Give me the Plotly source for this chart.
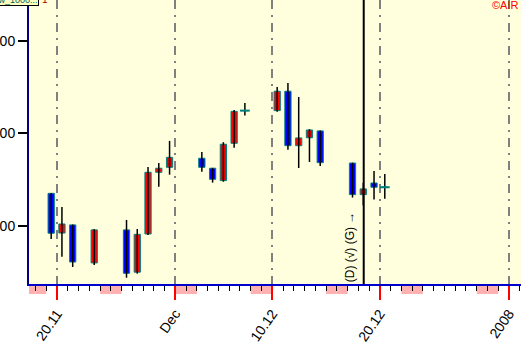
import plotly.graph_objects as go
import pandas as pd

# ---- data ----
dates = ["2007-11-19", "2007-11-20", "2007-11-21", "2007-11-23", "2007-11-26", "2007-11-27",
         "2007-11-28", "2007-11-29", "2007-11-30", "2007-12-03", "2007-12-04", "2007-12-05",
         "2007-12-06", "2007-12-07", "2007-12-10", "2007-12-11", "2007-12-12", "2007-12-13",
         "2007-12-14", "2007-12-17", "2007-12-18", "2007-12-19", "2007-12-20"]
opens = [13175, 12960, 13004, 12798, 12977, 12748, 12955, 13289, 13316, 13365, 13311, 13244,
         13446, 13623, 13623, 13728, 13433, 13476, 13513, 13339, 13168, 13231, 13208]
highs = [13177, 13101, 13006, 12980, 13031, 12982, 13318, 13339, 13459, 13399, 13313, 13452,
         13626, 13664, 13751, 13773, 13697, 13522, 13515, 13341, 13232, 13296, 13280]
lows = [12928, 12831, 12776, 12787, 12718, 12740, 12950, 13211, 13276, 13292, 13233, 13238,
        13422, 13596, 13617, 13411, 13312, 13345, 13323, 13152, 13110, 13141, 13146]
closes = [12959, 13009, 12803, 12977, 12742, 12953, 13289, 13311, 13370, 13316, 13251, 13441,
          13619, 13623, 13728, 13433, 13475, 13518, 13341, 13168, 13199, 13208, 13208]

tick_dates = ["2007-11-20", "2007-12-01", "2007-12-10", "2007-12-20", "2008-01-01"]
tick_labels = ["20.11", "Dec", "10.12", "20.12", "2008"]
y_ticks = [13000, 13500, 14000]
cursor_date = "2007-12-18 12:00"
x_range = ["2007-11-17 09:33", "2008-01-02 02:45"]
y_range = [12684, 14222]

UP = "#FF0000"
DOWN = "#0000FF"
EDGE = "#008080"

day = pd.Timedelta(days=1)
xs = [pd.Timestamp(d) + pd.Timedelta(hours=11) for d in dates]

fig = go.Figure()

# wicks
wx, wy = [], []
for x, lo, hi in zip(xs, lows, highs):
    wx += [x, x, None]
    wy += [lo, hi, None]
fig.add_trace(go.Scatter(x=wx, y=wy, mode="lines", line=dict(color="black", width=1.5),
                         hoverinfo="skip"))

# bodies
base = [min(o, c) for o, c in zip(opens, closes)]
size = [abs(c - o) for o, c in zip(opens, closes)]
cols = [UP if c > o else DOWN for o, c in zip(opens, closes)]
fig.add_trace(go.Bar(x=xs, y=size, base=base, width=0.58 * 86400000,
                     marker=dict(color=cols, line=dict(color=EDGE, width=1))))

# doji bars
dx = [x for x, o, c in zip(xs, opens, closes) if o == c]
dy = [o for o, c in zip(opens, closes) if o == c]
fig.add_trace(go.Scatter(x=dx, y=dy, mode="markers",
                         marker=dict(symbol="line-ew", size=7, line=dict(color=EDGE, width=2))))

# weekend marks below the axis
shapes = []
for d in pd.date_range("2007-11-17", "2008-01-01"):
    if d.weekday() >= 5:
        shapes.append(dict(type="rect", xref="x", yref="paper", x0=d, x1=d + day,
                           y0=-10 / 284, y1=-1 / 284, fillcolor="#FFB0B0",
                           line=dict(width=0), layer="below"))
shapes.append(dict(type="line", xref="x", yref="paper", x0=cursor_date, x1=cursor_date,
                   y0=0, y1=1, line=dict(color="black", width=2), layer="above"))

annotations = [
    dict(text="(D) (√) (G) →", textangle=-90, xref="x", yref="paper", x=cursor_date, y=0,
         xanchor="right", yanchor="bottom", xshift=-5, showarrow=False,
         font=dict(size=12, color="black", family="Arial")),
    dict(text="©AIR", xref="paper", yref="paper", x=1, y=1, xanchor="right", yanchor="top",
         xshift=-1, yshift=3, showarrow=False, font=dict(size=11, color="red", family="Arial")),
    dict(text="Dow_1000...", xref="paper", yref="paper", x=10 / 492, y=1 - 6 / 284,
         xanchor="right", yanchor="bottom", showarrow=False, bgcolor="#FFFFC0",
         bordercolor="black", borderwidth=1, borderpad=0,
         font=dict(size=9, color="#006060", family="Arial")),
    dict(text="1", xref="paper", yref="paper", x=11 / 492, y=1 - 7 / 284,
         xanchor="left", yanchor="bottom", showarrow=False,
         font=dict(size=10, color="#A00000", family="Arial")),
]

fig.update_layout(
    template="none",
    width=521, height=363,
    margin=dict(l=29, r=0, t=0, b=79),
    paper_bgcolor="white", plot_bgcolor="#FFFFDD",
    showlegend=False,
    shapes=shapes, annotations=annotations,
    xaxis=dict(
        type="date", range=x_range, tickmode="array", tickvals=tick_dates, ticktext=tick_labels,
        tickangle=-55, ticks="outside", ticklen=14, tickwidth=1.5, tickcolor="red",
        tickfont=dict(size=14, color="black", family="Arial"),
        showgrid=True, gridcolor="#808080", gridwidth=1.5, griddash="9px,6px,2px,6px",
        showline=True, linecolor="#0000CC", linewidth=2, zeroline=False, automargin=False,
        minor=dict(tickmode="linear", tick0="2007-11-17", dtick=86400000, ticks="outside",
                   ticklen=5, tickwidth=1, tickcolor="black", showgrid=False),
    ),
    yaxis=dict(
        range=y_range, tickmode="array", tickvals=y_ticks, tickformat="d", ticks="outside",
        ticklen=9, tickwidth=1.5, tickcolor="black",
        tickfont=dict(size=14, color="black", family="Arial"),
        showgrid=False, showline=True, linecolor="#000080", linewidth=2, zeroline=False,
        automargin=False,
    ),
)

fig.write_html("out.html", config={"displayModeBar": False},
               post_script="document.body.style.margin='0';")
